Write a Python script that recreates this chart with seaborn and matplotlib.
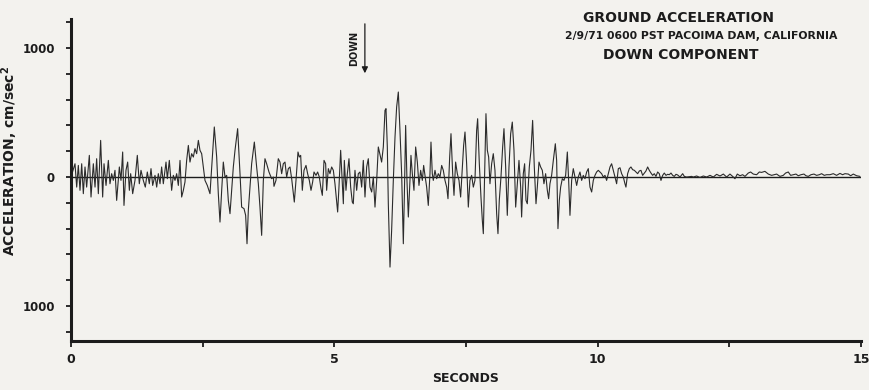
import matplotlib
matplotlib.use("Agg")
import matplotlib.pyplot as plt
import seaborn as sns
import pandas as pd

time_s = [
    0.000, 0.076, 0.108, 0.139, 0.171, 0.203, 0.234, 0.266, 0.297, 0.348, 0.380, 0.424, 0.456, 0.487,
    0.519, 0.563, 0.601, 0.627, 0.665, 0.709, 0.740, 0.772, 0.804, 0.835, 0.867, 0.918, 0.949, 0.981,
    1.006, 1.044, 1.076, 1.108, 1.133, 1.171, 1.215, 1.259, 1.297, 1.329, 1.373, 1.411, 1.449, 1.487,
    1.519, 1.551, 1.595, 1.627, 1.658, 1.690, 1.721, 1.753, 1.804, 1.829, 1.867,
    1.911, 1.943, 1.975, 2.006, 2.038, 2.070, 2.101, 2.133, 2.164, 2.196, 2.228, 2.259, 2.291, 2.323,
    2.354, 2.386, 2.418, 2.449, 2.481, 2.512, 2.544, 2.588, 2.639, 2.671, 2.721, 2.766, 2.797, 2.829,
    2.861, 2.892, 2.924, 2.956, 2.987, 3.019, 3.050, 3.082, 3.114, 3.164, 3.209, 3.240, 3.285, 3.316,
    3.342, 3.367, 3.399, 3.430, 3.481, 3.525, 3.557, 3.588, 3.620, 3.652, 3.683, 3.715, 3.759, 3.810,
    3.842,
    3.854, 3.892, 3.936, 3.968, 4.000, 4.031, 4.063, 4.095, 4.126, 4.158, 4.190, 4.221, 4.240, 4.272,
    4.310, 4.335, 4.361, 4.392, 4.424, 4.462, 4.493, 4.525, 4.557, 4.588, 4.614, 4.652, 4.683, 4.715,
    4.747, 4.772, 4.804, 4.835, 4.854, 4.886, 4.917, 4.949, 4.981, 5.012, 5.044, 5.063, 5.088, 5.120,
    5.152, 5.171, 5.190, 5.221, 5.247, 5.278, 5.310, 5.341, 5.360, 5.392, 5.424, 5.455, 5.487, 5.519,
    5.550, 5.582, 5.614, 5.645, 5.677, 5.709, 5.740, 5.772, 5.804, 5.835,
    5.898, 5.930, 5.962, 5.981, 6.006, 6.025, 6.057, 6.088, 6.120, 6.152, 6.183, 6.215, 6.246, 6.278,
    6.310, 6.329, 6.354, 6.379, 6.405, 6.436, 6.455, 6.481, 6.512, 6.544, 6.576, 6.607, 6.639, 6.671,
    6.696, 6.721, 6.753, 6.784, 6.816, 6.835, 6.860, 6.879, 6.911, 6.943, 6.974, 7.006, 7.038, 7.069,
    7.101, 7.133, 7.158, 7.190, 7.215, 7.247, 7.272, 7.303, 7.335, 7.367, 7.398, 7.430, 7.455, 7.481,
    7.512, 7.544, 7.575, 7.607, 7.639, 7.670, 7.702, 7.721, 7.753, 7.784, 7.810, 7.829,
    7.879, 7.905, 7.930, 7.955, 7.987, 8.018, 8.050, 8.082, 8.107, 8.132, 8.164, 8.196, 8.221, 8.253,
    8.284, 8.316, 8.348, 8.379, 8.411, 8.443, 8.474, 8.506, 8.538, 8.556, 8.588, 8.613, 8.639, 8.664,
    8.702, 8.734, 8.765, 8.797, 8.829, 8.854, 8.886, 8.917, 8.949, 8.980, 9.012, 9.044, 9.069, 9.094,
    9.126, 9.158, 9.196, 9.221, 9.246, 9.272, 9.297, 9.329, 9.360, 9.392, 9.424, 9.449, 9.474, 9.506,
    9.537, 9.569, 9.601, 9.632, 9.664, 9.696, 9.727, 9.759, 9.791, 9.822,
    9.854, 9.886, 9.917, 9.949, 9.980, 10.012, 10.044, 10.075, 10.107, 10.139, 10.170, 10.202, 10.234,
    10.265, 10.297, 10.329, 10.360, 10.392, 10.424, 10.455, 10.487, 10.518, 10.537, 10.569, 10.601,
    10.632, 10.664, 10.696, 10.727, 10.759, 10.791, 10.822, 10.854, 10.886, 10.917, 10.949, 10.980,
    11.012, 11.044, 11.075, 11.107, 11.139, 11.170, 11.202, 11.234, 11.265, 11.297, 11.329, 11.360,
    11.392, 11.424, 11.455, 11.487, 11.519, 11.563, 11.614, 11.645, 11.689, 11.784, 11.816, 11.879,
    11.942, 12.006, 12.070, 12.133, 12.196, 12.259, 12.323, 12.386,
    12.449, 12.512, 12.563, 12.607, 12.651, 12.702, 12.753, 12.797, 12.860, 12.904, 12.955, 13.018,
    13.069, 13.113, 13.176, 13.240, 13.303, 13.354, 13.398, 13.461, 13.524, 13.569, 13.619, 13.664,
    13.714, 13.765, 13.809, 13.860, 13.917, 13.955, 13.999, 14.050, 14.107, 14.157, 14.208, 14.252,
    14.303, 14.347, 14.410, 14.474, 14.537, 14.600, 14.651, 14.695, 14.759, 14.803, 14.854, 14.917,
    14.980,
]
accel = [
    0, 103, -78, 90, -103, 103, -129, 78, -78, 168, -155, 103, -78, 142,
    -129, 284, -155, 103, -65, 129, -52, 26, -26, 52, -181, 78, -26, 194,
    -220, 52, 116, -103, 26, -129, -26, 168, -52, 52, -26, -78, 39, -52,
    65, -65, 13, -78, 26, -52, 78, -52, 116, -13, 129,
    -103, 13, -26, 26, -65, 129, -155, -103, -39, 129, 245, 116, 181, 155,
    220, 181, 284, 207, 181, 78, -26, -65, -129, 78, 388, 155, -129, -349,
    -103, 116, 0, 13, -181, -284, -103, 78, 207, 375, 26, -233, -245, -297,
    -517, -258, -78, 103, 271, 78, -52, -233, -452, -26, 142, 103, 39, -13,
    0,
    -72, -26, 142, 116, 26, 103, 116, 0, 65, 78, -13, -129, -194, -26,
    194, 155, 168, -103, 52, 90, 26, -26, -103, -39, 39, 13, 39, 0,
    -90, -142, 129, 103, -103, 65, 26, 78, 52, -52, -194, -271, -78, 207,
    -52, -207, 129, -103, 26, 142, -78, -194, -207, 52, -103, 26, 39, -78,
    129, -155, 78, 142, -78, -116, 0, -233, -26, 233,
    116, 233, 517, 530, 233, -207, -698, -413, -26, 310, 543, 659, 362, 26,
    -517, -155, 400, -26, -310, -26, 168, 26, -103, 233, 116, -65, 52, -26,
    90, 13, -78, -220, 26, 271, 26, -26, 52, -13, 26, 0, 90, 52,
    -26, -78, -168, 155, 336, 26, -142, 116, 26, -26, -155, 78, 245, 349,
    103, -233, -26, 13, -78, -26, 362, 452, 103, -155, -336, -439,
    491, 207, 155, -52, 103, 181, 52, -284, -439, -181, 0, 233, 375, 78,
    -297, 78, 336, 426, 207, -233, -52, 129, -78, -310, 26, 103, -181, -207,
    78, 207, 439, 78, -207, -78, 116, 78, 52, -52, 26, -103, -168, -52,
    13, 129, 258, 129, -400, -181, -78, -13, -26, 13, 194, -26, -297, -26,
    65, 0, -65, 0, 39, -26, 13, -13, 39, 65,
    -78, -116, -26, 13, 39, 52, 39, 26, 0, 13, -26, 26, 78,
    103, 52, 0, -52, 65, 72, 26, 0, -52, -78, 26, 65,
    78, 57, 52, 39, 26, 47, 52, 13, 31, 47, 78, 52,
    31, 13, 26, 5, 39, 26, -26, 13, 31, 13, 21, 18,
    31, 13, 5, 21, 16, 0, 26, 5, 0, 5, 0, 8,
    -3, 8, 0, 13, 0, 21, 8, 23,
    0, 23, 5, -13, 23, 10, 18, 5, 31, 39, 23, 18,
    39, 36, 44, 23, 13, 18, 23, 5, 13, 31, 39, 13,
    18, 23, 10, 18, 23, 10, 5, 18, 23, 13, 18, 26,
    13, 18, 18, 26, 13, 28, 18, 26, 23, 10, 23, 10,
    5,
]

x_ticks = [0, 2.5, 5, 7.5, 10, 12.5, 15]
x_tick_labels = ["0", "", "5", "", "10", "", "15"]
y_ticks = [-1200, -1000, -800, -600, -400, -200, 0, 200, 400, 600, 800, 1000, 1200]
y_tick_labels = ["", "1000", "", "", "", "", "0", "", "", "", "", "1000", ""]

title_lines = ["GROUND ACCELERATION",
               "2/9/71 0600 PST PACOIMA DAM, CALIFORNIA",
               "DOWN COMPONENT"]
x_label = "SECONDS"
y_label = "ACCELERATION, cm/sec$^{\\mathbf{2}}$"
arrow_label = "DOWN"
arrow_time = 5.58

bg = "#f3f2ee"
ink = "#1c1c1c"

sns.set_style("ticks")
plt.rcParams["font.family"] = ["DejaVu Sans"]

W, H = 870, 390
fig = plt.figure(figsize=(W / 100, H / 100), dpi=100, facecolor=bg)
ax = fig.add_axes([71 / W, 1 - 341 / H, 790 / W, 322 / H])
ax.set_facecolor(bg)

df = pd.DataFrame({"t": time_s, "a": accel})
sns.lineplot(data=df, x="t", y="a", ax=ax, sort=False, estimator=None,
             color="#2b2b2b", linewidth=0.8)
ax.axhline(0, color=ink, linewidth=1.0, zorder=1)

ax.set_xlim(0, 15)
ax.set_ylim(-1271, 1225)

for side in ("top", "right"):
    ax.spines[side].set_visible(False)
for side in ("left", "bottom"):
    ax.spines[side].set_linewidth(2.2)
    ax.spines[side].set_color(ink)

ax.set_xticks(x_ticks)
ax.set_xticklabels(x_tick_labels, fontsize=9, fontweight="bold", color=ink)
ax.set_yticks(y_ticks)
ax.set_yticklabels(y_tick_labels, fontsize=8.5, fontweight="bold", color=ink)
ax.tick_params(axis="x", direction="out", length=4.5, width=1.3, color=ink, pad=4)
ax.tick_params(axis="y", direction="out", length=3.5, width=1.3, color=ink, pad=8)

ax.set_xlabel(x_label, fontsize=9, fontweight="bold", color=ink, va="center")
ax.xaxis.set_label_coords(0.5, (341 - 379) / 322)
ax.set_ylabel(y_label, fontsize=10, fontweight="bold", color=ink)
ax.yaxis.set_label_coords((20 - 71) / 790, (341 - 161) / 322)

# Polarity marker
ax.annotate("", xy=(arrow_time, 783), xytext=(arrow_time, 1209),
            arrowprops=dict(arrowstyle="-|>", color=ink, lw=0.9, mutation_scale=9),
            annotation_clip=False)
ax.text(arrow_time - 0.2, 1000, arrow_label, rotation=90, ha="center", va="center",
        fontsize=7, fontweight="bold", color=ink)

# Record heading
fig.text(679 / W, 1 - 18 / H, title_lines[0], ha="center", va="center",
         fontsize=10, fontweight="bold", color=ink)
fig.text(701 / W, 1 - 36 / H, title_lines[1], ha="center", va="center",
         fontsize=7.8, fontweight="bold", color=ink)
fig.text(681 / W, 1 - 55 / H, title_lines[2], ha="center", va="center",
         fontsize=10, fontweight="bold", color=ink)

fig.savefig("out.png", dpi=100, facecolor=bg)
